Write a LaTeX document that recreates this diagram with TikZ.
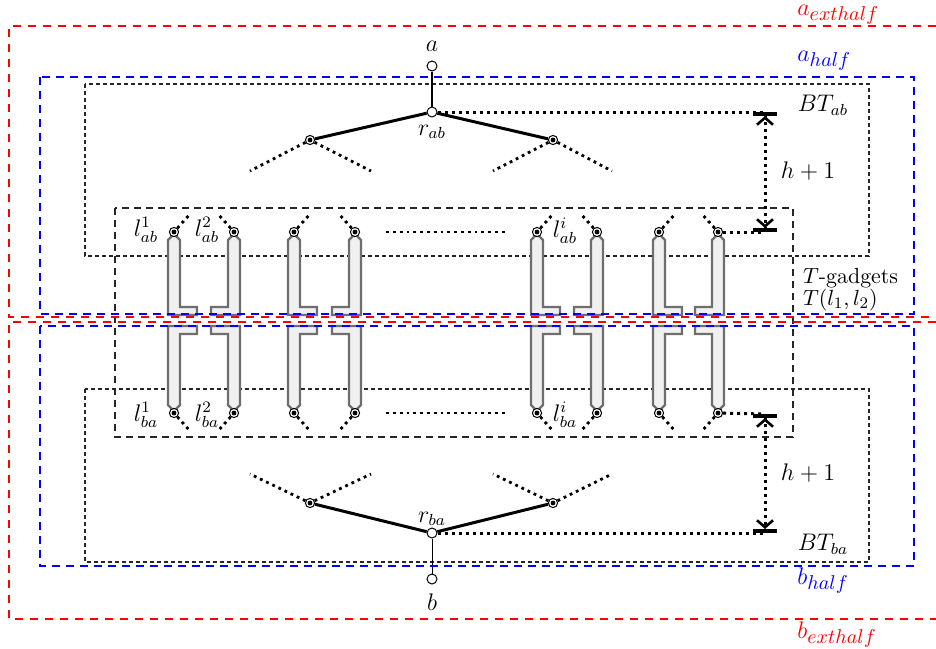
\documentclass[tikz,border=0pt]{standalone}
\usepackage{amsmath,amssymb}
\usepackage{xcolor}
\usetikzlibrary{arrows.meta,positioning,calc}

\definecolor{gline}{RGB}{110,110,110}
\definecolor{gfill}{RGB}{240,240,240}

\begin{document}
\begin{tikzpicture}[x=0.5pt,y=-0.5pt,font=\large]
\tikzstyle{opn}=[draw,circle,fill=white,inner sep=0pt,minimum size=5pt,line width=0.5pt]
\tikzstyle{dotnode}=[draw,circle,fill=white,inner sep=0pt,minimum size=4.6pt,line width=0.5pt]
\tikzstyle{tree}=[line width=1.5pt]
\tikzstyle{branch}=[dotted,line width=1.4pt]
\tikzstyle{gadget}=[draw=gline,fill=gfill,line width=1.2pt]
\tikzstyle{redbox}=[red,dash pattern=on 4pt off 3.5pt,line width=0.7pt]
\tikzstyle{bluebox}=[blue,dash pattern=on 4pt off 3pt,line width=0.7pt]
\tikzstyle{btbox}=[black!85,dash pattern=on 2pt off 1.5pt,line width=0.6pt]
\tikzstyle{tbox}=[black!85,dash pattern=on 3.7pt off 2.3pt,line width=0.7pt]
\tikzstyle{halflab}=[anchor=base west,inner sep=1pt]
\tikzstyle{hgt}=[dotted,line width=1.5pt,
  {Bar[width=12pt,line width=2pt]Straight Barb[length=3.5pt,width=8pt,line width=1.3pt]}-{Straight Barb[length=3.5pt,width=8pt,line width=1.3pt]Bar[width=12pt,line width=2pt]}]
\useasboundingbox (0,0) rectangle (936,648);

% frames
\draw[btbox] (85,84) rectangle (869,256);
\draw[btbox] (85,389) rectangle (869,562);
\draw[tbox] (115,208) rectangle (793,437);

% T-gadgets with their leaves
\foreach \x/\s [count=\i] in {174/1,234/-1,294/1,355/-1,537/1,597/-1,659/1,718/-1}{
  \draw[gadget] (\x,234) -- ({\x+6*\s},240) -- ({\x+6*\s},307) -- ({\x+23*\s},307)
    -- ({\x+23*\s},315) -- ({\x-6*\s},315) -- ({\x-6*\s},240) -- cycle;
  \draw[gadget] (\x,411) -- ({\x+6*\s},405) -- ({\x+6*\s},334) -- ({\x+23*\s},334)
    -- ({\x+23*\s},326) -- ({\x-6*\s},326) -- ({\x-6*\s},405) -- cycle;
  \node[dotnode] (lt\i) at (\x,232) {};
  \node[dotnode] (lb\i) at (\x,413) {};
  \fill (lt\i.center) circle (1.2pt);
  \fill (lb\i.center) circle (1.2pt);
  \coordinate (ut\i) at ({\x+16*\s},214);
  \coordinate (ub\i) at ({\x+16*\s},431);
  \draw[branch] (lt\i) -- (ut\i);
  \draw[branch] (lb\i) -- (ub\i);
}
\draw[branch,shorten <=13pt,shorten >=13pt] (lt4) -- (lt5);
\draw[branch,shorten <=13pt,shorten >=13pt] (lb4) -- (lb5);

\node (l1ab) at (146,230) {$l_{ab}^1$};
\node (l2ab) at (207,230) {$l_{ab}^2$};
\node (liab) at (565,231) {$l_{ab}^i$};
\node (l1ba) at (146,415) {$l_{ba}^1$};
\node (l2ba) at (207,415) {$l_{ba}^2$};
\node (liba) at (565,415) {$l_{ba}^i$};

% tree BT_ab
\node[opn] (a) at (432,66) {};
\node[opn] (rab) at (432,112) {};
\node[dotnode] (cab1) at (310,140) {};
\node[dotnode] (cab2) at (553,140) {};
\node[above=0.9pt of a] (alab) {$a$};
\node[anchor=base] (rablab) at (432,135) {$r_{ab}$};
\draw[line width=1.2pt] (a) -- (rab);
\draw[tree] (rab) -- (cab1);
\draw[tree] (rab) -- (cab2);
\coordinate (dab1) at (250,171);
\coordinate (dab2) at (371,171);
\coordinate (dab3) at (493,171);
\coordinate (dab4) at (612,171);
\draw[branch] (cab1) -- (dab1);
\draw[branch] (cab1) -- (dab2);
\draw[branch] (cab2) -- (dab3);
\draw[branch] (cab2) -- (dab4);

% tree BT_ba
\node[opn] (b) at (432,579) {};
\node[opn] (rba) at (432,533) {};
\node[dotnode] (cba1) at (310,503) {};
\node[dotnode] (cba2) at (553,503) {};
\node[below=0.9pt of b] (blab) {$b$};
\node[anchor=base] (rbalab) at (432,522) {$r_{ba}$};
\draw[line width=0.5pt] (rba) -- (b);
\draw[tree] (rba) -- (cba1);
\draw[tree] (rba) -- (cba2);
\coordinate (dba1) at (250,474);
\coordinate (dba2) at (371,474);
\coordinate (dba3) at (493,474);
\coordinate (dba4) at (612,474);
\draw[branch] (cba1) -- (dba1);
\draw[branch] (cba1) -- (dba2);
\draw[branch] (cba2) -- (dba3);
\draw[branch] (cba2) -- (dba4);
\foreach \n in {cab1,cab2,cba1,cba2}
  \fill (\n.center) circle (1.2pt);

% heights
\coordinate (hab1) at (765,112);
\coordinate (hab2) at (765,232);
\coordinate (hba1) at (765,414);
\coordinate (hba2) at (765,533);
\draw[branch,line width=1.5pt] (rab) -- (hab1);
\draw[branch,line width=1.5pt] (lt8) -- (hab2);
\draw[branch,line width=1.5pt] (lb8) -- (hba1);
\draw[branch,line width=1.5pt] (rba) -- (hba2);
\draw[hgt] (hab1) -- (hab2);
\draw[hgt] (hba1) -- (hba2);
\node (h1) at (808,171) {$h+1$};
\node (h2) at (808,473) {$h+1$};
\node (btab) at (823,105) {$BT_{ab}$};
\node (btba) at (823,544) {$BT_{ba}$};
\node[anchor=base west,font=\fontsize{10.95}{12}\selectfont] (tg1) at (796,283) {$T$-gadgets};
\node[anchor=base west,font=\fontsize{10.95}{12}\selectfont] (tg2) at (796,305) {$T(l_1,l_2)$};

% halves
\draw[redbox] (936,26) -- (9,26) -- (9,317) -- (936,317);
\draw[redbox] (936,322) -- (9,322) -- (9,619) -- (936,619);
\draw[bluebox] (40,77) rectangle (914,314);
\draw[bluebox] (40,326) rectangle (914,566);
\node[halflab,red] (aext) at (795,15) {$a_{\mbox{\normalsize$exthalf$}}$};
\node[halflab,blue] (ahalf) at (795,61) {$a_{\mbox{\normalsize$half$}}$};
\node[halflab,blue] (bhalf) at (795,584) {$b_{\mbox{\normalsize$half$}}$};
\node[halflab,red] (bext) at (795,638) {$b_{\mbox{\normalsize$exthalf$}}$};
\end{tikzpicture}
\end{document}
